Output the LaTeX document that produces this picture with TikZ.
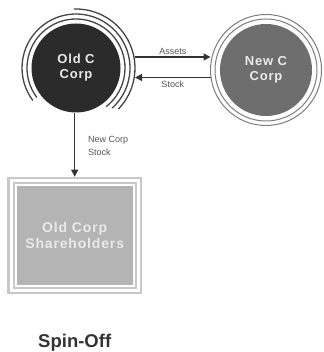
\documentclass[tikz,border=0pt]{standalone}
\usepackage{fontspec}
\setmainfont{Liberation Sans}
\newfontfamily\spaced[LetterSpace=6]{Liberation Sans}
\usetikzlibrary{arrows.meta}
\definecolor{darkfill}{HTML}{2B2B2B}
\definecolor{midfill}{HTML}{6E6E6E}
\definecolor{boxfill}{HTML}{B4B4B4}
\definecolor{boxline}{HTML}{C8C8C8}
\definecolor{ringdark}{HTML}{444444}
\definecolor{ringgray}{HTML}{7C7C7C}
\definecolor{lbl}{HTML}{555555}
\definecolor{arr}{HTML}{333333}
\definecolor{wtxt}{HTML}{EAEAEA}
\tikzset{
  corp/.style={circle, inner sep=0pt, text=wtxt, align=center,
    font=\spaced\bfseries\fontsize{13}{15}\selectfont},
  darkring/.style={draw=ringdark, line width=1.3pt},
  grayring/.style={draw=ringgray, line width=1pt},
  frame/.style={draw=boxline, line width=2.2pt},
  flow/.style={draw=arr, line width=1.2pt, -{Triangle[length=7pt,width=7pt]}},
  lab/.style={text=lbl, inner sep=0pt, font=\fontsize{9}{12.5}\selectfont}
}
\begin{document}
\begin{tikzpicture}[x=1pt,y=1pt]
\useasboundingbox (0,0) rectangle (323,-352);
% Old C Corp
\node[corp, fill=darkfill, minimum size=89] (oldc) at (76,-68) {Old C\\Corp};
\draw[darkring] ([shift={(-52:49)}]76,-68) arc[start angle=-52, end angle=217, radius=49];
\draw[darkring] ([shift={(-48:54)}]76,-68) arc[start angle=-48, end angle=217, radius=54];
\draw[darkring] ([shift={(-44:59)}]76,-68) arc[start angle=-44, end angle=92, radius=59];
% New C Corp
\node[corp, fill=midfill, minimum size=92] (newc) at (266,-70) {New C\\Corp};
\draw[grayring] (newc.center) circle[radius=51];
\draw[grayring] (newc.center) circle[radius=55.5];
% arrows between corps
\coordinate (o1) at (135,-57);
\coordinate (n1) at (210.5,-57);
\coordinate (o2) at (135,-77.5);
\coordinate (n2) at (210.5,-77.5);
\draw[flow] (o1) -- (n1) node[midway, lab, anchor=base, yshift=2.5pt] {Assets};
\draw[flow] (n2) -- (o2) node[midway, lab, anchor=north, yshift=-2.5pt] {Stock};
% shareholders box
\node[fill=boxfill, minimum width=116, minimum height=99, inner sep=0pt,
      text=wtxt, align=center, font=\spaced\bfseries\fontsize{14}{16.7}\selectfont]
      (box) at (74.7,-235.5) {Old Corp\\Shareholders};
\node[frame, minimum width=122, minimum height=105, inner sep=0pt] (frame1) at (box.center) {};
\node[frame, minimum width=132.4, minimum height=115.4, inner sep=0pt] (frame2) at (box.center) {};
% down arrow
\draw[flow] (oldc.south -| frame2.north) -- (frame2.north);
\node[lab, anchor=north west, align=left] (ncs) at (88,-136.5) {New Corp\\Stock};
% title
\node[anchor=base, inner sep=0pt, text=arr, font=\bfseries\fontsize{18.5}{20}\selectfont] (title) at (74.7,-347) {Spin-Off};
\end{tikzpicture}
\end{document}
